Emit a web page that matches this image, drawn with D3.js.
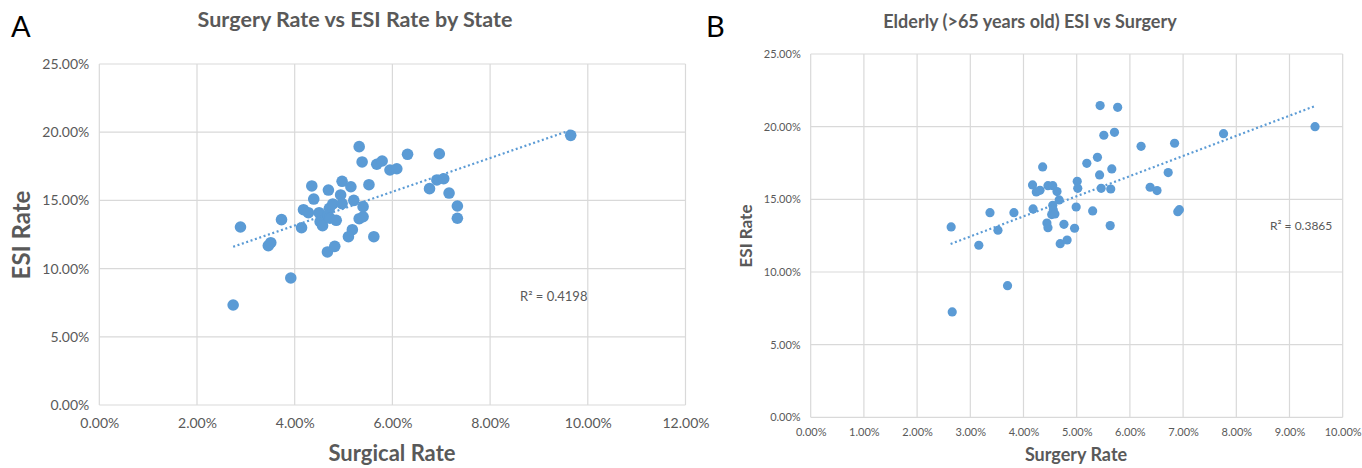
<!DOCTYPE html>
<html>
<head>
<meta charset="utf-8">
<script src="https://cdn.jsdelivr.net/npm/d3@7"></script>
<style>
  body { margin: 0; background: #fff; }
  svg { display: block; }
  text { font-family: Lato, "Open Sans", sans-serif; }
</style>
</head>
<body>
<svg id="chart" width="1362" height="468"></svg>
<script>
// Panel A: all ages, by state (values in %)
const surgeryA = [2.89, 3.73, 3.46, 3.51, 3.92, 4.14, 4.18, 4.28, 4.35, 4.39,
  4.50, 4.52, 4.57, 4.69, 4.71, 4.68, 4.67, 4.78, 4.72, 4.82,
  4.85, 4.94, 4.97, 4.97, 5.15, 5.21, 5.32, 5.38, 5.40, 5.32,
  5.40, 5.18, 5.10, 5.52, 5.62, 5.68, 5.79, 5.95, 6.09, 6.31,
  6.76, 6.96, 6.91, 7.05, 7.16, 7.33, 7.33, 9.65, 2.74];
const esiA = [13.05, 13.59, 11.68, 11.90, 9.31, 13.00, 14.32, 14.10, 16.06, 15.10,
  14.10, 13.44, 13.15, 15.76, 14.42, 13.93, 11.22, 14.74, 13.69, 11.63,
  13.54, 15.40, 16.40, 14.76, 16.00, 15.00, 18.94, 17.82, 14.54, 13.66,
  13.80, 12.85, 12.34, 16.15, 12.34, 17.65, 17.89, 17.23, 17.32, 18.38,
  15.86, 18.42, 16.50, 16.59, 15.54, 14.59, 13.69, 19.77, 7.33];
// trendline ends [x, y]
const trendA = [[2.74, 11.6], [9.66, 20.16]];
const xTicksA = [0, 2, 4, 6, 8, 10, 12];
const yTicksA = [0, 5, 10, 15, 20, 25];

// Panel B: elderly (>65)
const surgeryB = [2.64, 3.16, 3.37, 3.52, 3.70, 3.82, 4.17, 4.18, 4.24, 4.31,
  4.36, 4.44, 4.46, 4.46, 4.55, 4.63, 4.55, 4.56, 4.53, 4.59,
  4.67, 4.76, 4.69, 4.82, 4.96, 4.99, 5.01, 5.02, 5.19, 5.30,
  5.39, 5.43, 5.46, 5.44, 5.51, 5.63, 5.64, 5.66, 5.71, 5.77,
  6.21, 6.38, 6.51, 6.84, 6.72, 6.90, 6.93, 7.76, 9.48, 2.66];
const esiB = [13.10, 11.84, 14.08, 12.87, 9.06, 14.08, 15.99, 14.34, 15.51, 15.62,
  17.23, 13.37, 13.05, 15.94, 15.94, 15.53, 14.59, 14.27, 13.95, 13.99,
  14.96, 13.28, 11.95, 12.20, 13.01, 14.47, 16.24, 15.76, 17.48, 14.20,
  17.89, 16.68, 15.76, 21.45, 19.41, 13.19, 15.71, 17.09, 19.61, 21.33,
  18.65, 15.83, 15.60, 18.86, 16.84, 14.15, 14.29, 19.52, 20.00, 7.25];
const trendB = [[2.63, 11.93], [9.48, 21.42]];
const xTicksB = [0, 1, 2, 3, 4, 5, 6, 7, 8, 9, 10];
const yTicksB = [0, 5, 10, 15, 20, 25];

const blue = "#5b9bd5";
const grid = "#d9d9d9";
const labelColor = "#595959";
const pct = d => d.toFixed(2) + "%";

const svg = d3.select("#chart");

function drawPanel(p) {
  const x = d3.scaleLinear().domain([0, p.xMax]).range([p.left, p.right]);
  const y = d3.scaleLinear().domain([0, 25]).range([p.bottom, p.top]);
  const g = svg.append("g");

  // gridlines
  g.selectAll(".vgrid").data(p.xTicks).enter().append("line")
      .attr("x1", d => x(d)).attr("x2", d => x(d))
      .attr("y1", p.top).attr("y2", p.bottom)
      .attr("stroke", grid).attr("stroke-width", 1.2);
  g.selectAll(".hgrid").data(p.yTicks).enter().append("line")
      .attr("x1", p.left).attr("x2", p.right)
      .attr("y1", d => y(d)).attr("y2", d => y(d))
      .attr("stroke", grid).attr("stroke-width", 1.2);

  // axes (labels only)
  const xAxis = g.append("g")
      .attr("transform", `translate(0,${p.bottom})`)
      .call(d3.axisBottom(x).tickValues(p.xTicks).tickFormat(pct).tickSize(0).tickPadding(p.xPad));
  const yAxis = g.append("g")
      .attr("transform", `translate(${p.left},0)`)
      .call(d3.axisLeft(y).tickValues(p.yTicks).tickFormat(pct).tickSize(0).tickPadding(p.yPad));
  [xAxis, yAxis].forEach(a => {
    a.select(".domain").remove();
    a.selectAll("text")
        .style("font-family", "Lato, 'Open Sans', sans-serif")
        .style("font-size", p.tickSize + "px")
        .attr("fill", labelColor);
  });

  // points
  g.selectAll(".pt").data(p.xs).enter().append("circle")
      .attr("cx", d => x(d))
      .attr("cy", (d, i) => y(p.ys[i]))
      .attr("r", p.r)
      .attr("fill", blue);

  // dotted linear trendline
  g.append("line")
      .attr("x1", x(p.trend[0][0])).attr("y1", y(p.trend[0][1]))
      .attr("x2", x(p.trend[1][0])).attr("y2", y(p.trend[1][1]))
      .attr("stroke", blue).attr("stroke-width", 2.2)
      .attr("stroke-dasharray", "2,2.6");

  // R squared
  g.append("text")
      .attr("x", p.r2x).attr("y", p.r2y)
      .attr("fill", labelColor)
      .style("font-size", p.r2Size + "px")
      .text(p.r2);

  // title
  g.append("text")
      .attr("x", p.titleX).attr("y", p.titleY)
      .attr("text-anchor", "middle")
      .attr("fill", labelColor)
      .style("font-weight", "bold")
      .style("font-size", p.titleSize + "px")
      .text(p.title);

  // axis titles
  g.append("text")
      .attr("x", p.xTitleX).attr("y", p.xTitleY)
      .attr("text-anchor", "middle")
      .attr("fill", labelColor)
      .style("font-weight", "bold")
      .style("font-size", p.xTitleSize + "px")
      .text(p.xTitle);
  g.append("text")
      .attr("transform", `translate(${p.yTitleX},${p.yTitleY}) rotate(-90)`)
      .attr("text-anchor", "middle")
      .attr("fill", labelColor)
      .style("font-weight", "bold")
      .style("font-size", p.yTitleSize + "px")
      .text("ESI Rate");

  // panel letter
  g.append("text")
      .attr("x", p.letterX).attr("y", 37)
      .attr("fill", "#000")
      .style("font-size", "29px")
      .text(p.letter);
}

drawPanel({
  letter: "A", letterX: 11,
  left: 99.3, right: 685.5, top: 64, bottom: 405, xMax: 12,
  xTicks: xTicksA, yTicks: yTicksA, xs: surgeryA, ys: esiA, trend: trendA,
  r: 5.8, tickSize: 14, xPad: 13, yPad: 10,
  title: "Surgery Rate vs ESI Rate by State", titleX: 355, titleY: 27, titleSize: 21.5,
  xTitle: "Surgical Rate", xTitleX: 392, xTitleY: 461, xTitleSize: 22,
  yTitleX: 30, yTitleY: 235, yTitleSize: 24,
  r2: "R² = 0.4198", r2x: 520, r2y: 301, r2Size: 13
});

drawPanel({
  letter: "B", letterX: 706,
  left: 810.7, right: 1342.7, top: 54, bottom: 417.3, xMax: 10,
  xTicks: xTicksB, yTicks: yTicksB, xs: surgeryB, ys: esiB, trend: trendB,
  r: 4.6, tickSize: 11, xPad: 11, yPad: 10,
  title: "Elderly (>65 years old) ESI vs Surgery", titleX: 1030, titleY: 28, titleSize: 18,
  xTitle: "Surgery Rate", xTitleX: 1076, xTitleY: 461, xTitleSize: 18,
  yTitleX: 752, yTitleY: 236, yTitleSize: 17,
  r2: "R² = 0.3865", r2x: 1270, r2y: 230, r2Size: 12
});
</script>
</body>
</html>
